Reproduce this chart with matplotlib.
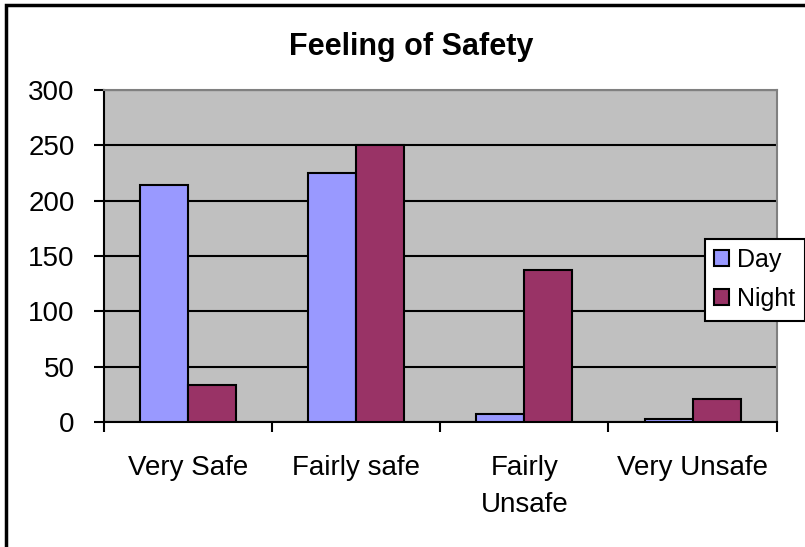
import numpy as np
import matplotlib.pyplot as plt
from matplotlib.patches import Rectangle

categories = ['Very Safe', 'Fairly safe', 'Fairly\nUnsafe', 'Very Unsafe']
day = [214, 225, 7, 3]
night = [33, 250, 137, 21]
yticks = [0, 50, 100, 150, 200, 250, 300]


def main():
    plt.rcParams['font.family'] = ['Liberation Sans', 'DejaVu Sans']

    fig = plt.figure(figsize=(8.05, 5.47), dpi=100)
    ax = fig.add_axes([0.1292, 0.2285, 0.8356, 0.607])

    x = np.arange(len(categories))
    w = 1 / 3.5
    ax.bar(x - w / 2, day, w, color='#9999FF', edgecolor='black', linewidth=1.5, label='Day', zorder=3)
    ax.bar(x + w / 2, night, w, color='#993366', edgecolor='black', linewidth=1.5, label='Night', zorder=3)

    ax.set_facecolor('#C0C0C0')
    ax.set_xlim(-0.5, len(categories) - 0.5)
    ax.set_ylim(0, 300)
    ax.set_yticks(yticks)
    ax.yaxis.grid(True, color='black', linewidth=1.5, zorder=1)
    ax.set_axisbelow(True)

    # category ticks sit between the groups, labels in the middle
    ax.set_xticks(np.arange(len(categories) + 1) - 0.5)
    ax.set_xticklabels([])
    ax.set_xticks(x, minor=True)
    ax.set_xticklabels(categories, minor=True, fontsize=20, linespacing=1.55)
    ax.tick_params(axis='x', which='minor', length=0, pad=24)
    ax.tick_params(axis='x', which='major', length=7, width=1.5)
    ax.tick_params(axis='y', length=7, width=1.5, labelsize=20, pad=14)

    for side in ['left', 'bottom']:
        ax.spines[side].set_linewidth(1.5)
        ax.spines[side].set_color('black')
    for side in ['top', 'right']:
        ax.spines[side].set_linewidth(1.5)
        ax.spines[side].set_color('#808080')

    fig.text(0.511, 0.914, 'Feeling of Safety', ha='center', va='center',
             fontsize=22, fontweight='bold')

    leg = ax.legend(loc='center left', bbox_to_anchor=(0.8934, 0.429), fontsize=18,
                    frameon=True, fancybox=False, edgecolor='black', framealpha=1,
                    handlelength=0.6, handleheight=0.6, handletextpad=0.3,
                    borderpad=0.38, labelspacing=0.6, borderaxespad=0)
    leg.get_frame().set_linewidth(1.5)
    leg.set_zorder(5)

    # chart area frame (only left and top are visible in the reference)
    fig.patches.append(Rectangle((0.0078, -0.05), 1.1, 1.041, transform=fig.transFigure,
                                 fill=False, edgecolor='black', linewidth=2.5))

    fig.savefig('out.png', dpi=100)


if __name__ == '__main__':
    main()
